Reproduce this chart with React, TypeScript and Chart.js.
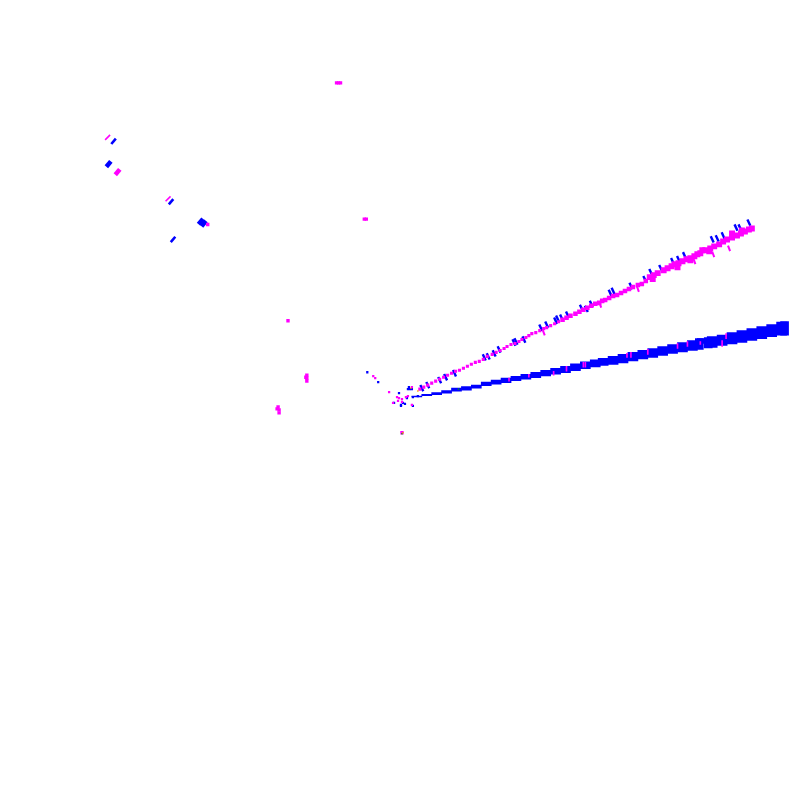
import React, { useEffect, useRef } from "react";
import { Chart, registerables } from "chart.js";

Chart.register(...registerables);

type P = [number, number];
type R = [number, number, number];

// Wedge of blue: [x, upper, lower]
const blueWedge: R[] = [
  [417, 396, 397], [427, 394.3, 395.7], [437, 392.5, 394.6], [447, 390.5, 393], [457, 388, 391],
  [467, 386.5, 390], [477, 385, 388], [487, 382, 385.5], [497, 380, 384], [507, 378, 382.5],
  [517, 376, 380.5], [527, 374, 379], [537, 372, 377.5], [547, 370, 375.7], [557, 368, 374],
  [567, 366, 372.5], [577, 363.5, 370.5], [587, 361.5, 368.5], [597, 359.5, 366.5], [605, 358, 365],
  [615, 356, 364], [625, 354, 362.5], [635, 352, 360.5], [645, 350, 358.5], [655, 348, 357],
  [665, 346, 355], [675, 344, 353], [685, 342, 351.5], [695, 340, 350], [705, 338, 343],
  [715, 336, 347], [725, 334.5, 345], [735, 332, 343.5], [745, 330, 342], [755, 328, 340],
  [765, 326, 338], [775, 324, 336], [785, 321.5, 334.5],
];
const wedgeEdge: R[] = [[702, 338, 349], [711, 337, 347.5], [788, 321, 334.5]];
const wedgeTicks: R[] = [
  [510, 378, 381], [530, 374, 377], [555, 371, 375], [568, 366, 371], [585, 362, 367], [587, 362, 367],
  [629, 353, 357], [633, 352, 357], [650, 349, 354], [680, 343, 348], [690, 341, 346],
  [703, 341, 344], [725, 340, 346], [729, 333, 338],
];

const magentaThin: P[] = [
  [420, 389], [424, 387], [428, 385], [432, 383], [436, 381], [440, 379], [444, 377], [448, 375],
  [452, 373], [456, 371], [460, 370], [464, 368], [468, 366], [472, 364], [476, 362], [480, 361],
  [484, 359], [488, 356], [493, 354], [497, 352], [501, 350], [505, 348], [508, 346], [512, 344],
  [516, 343], [520, 341], [523, 339], [527, 337], [530, 335], [533, 333], [537, 332], [541, 330],
  [545, 328], [548, 327], [552, 325], [556, 323], [560, 321],
];
const magentaMid: P[] = [
  [564, 319], [568, 317], [572, 315], [577, 313], [581, 311], [585, 309], [589, 307], [593, 305],
  [597, 303], [601, 302], [604, 300], [607, 299], [611, 297], [615, 295], [619, 294], [623, 292],
  [627, 290], [631, 288], [635, 286], [640, 284], [644, 283], [648, 280],
];
const magentaThick: P[] = [
  [652, 276], [655, 278], [656, 274], [660, 272], [666, 269], [670, 267], [674, 265], [677, 263],
  [680, 266], [681, 262], [685, 260], [689, 258], [693, 257], [693, 259], [697, 255], [700, 253],
  [703, 252], [705, 249], [708, 249], [712, 250], [713, 247], [717, 245], [722, 243], [726, 240],
  [730, 238], [735, 236], [735, 232], [740, 234], [744, 232], [745, 229], [748, 230], [752, 228],
  [755, 227],
];
const magentaDots: P[] = [
  [389, 392], [397, 397], [399, 398], [402, 399], [398, 401], [402, 402], [393, 403], [408, 396],
  [406, 397], [412, 405], [373, 376], [375, 378], [412, 387],
];
const magentaBlobs: P[] = [
  [402, 433], [287, 320], [306, 375], [306, 378], [305, 377], [306, 381], [277, 407], [278, 410],
  [276, 409], [278, 413], [336, 80], [338, 80], [340, 80], [364, 217.5], [366, 217.5], [206, 223],
];
const magentaFatStrokes: P[] = [[115, 170]];
const magentaStrokes: P[] = [[105, 135], [166, 197]];
const magentaDrops: P[] = [
  [697, 260], [716, 253], [732, 247], [640, 288], [602, 304], [545, 332],
];

const blueDots: P[] = [
  [399, 393], [403, 403], [401, 405], [405, 404], [407, 398], [413, 397], [418, 396], [413, 406],
  [394, 403], [401, 406], [409, 387], [410, 389], [408, 389], [412, 389], [367, 372], [378, 382],
];
const blueFatStrokes: P[] = [[106, 162], [199, 220], [202, 222]];
const blueSlashes: P[] = [[111, 139], [169, 200], [171, 238]];
const blueBandLumps: P[] = [
  [422, 388], [428, 385], [440, 380], [446, 377], [455, 373], [485, 357], [489, 356], [495, 353],
  [500, 349], [515, 342], [517, 341], [525, 339], [542, 327], [548, 324], [557, 320], [559, 318],
  [563, 317], [569, 314], [583, 307], [588, 308], [593, 303], [612, 292], [615, 290], [633, 285],
  [647, 278], [653, 271], [663, 267], [675, 260], [681, 258], [687, 254], [715, 238], [720, 237],
  [726, 234], [739, 226], [743, 226], [752, 221],
];
const orangeDots: P[] = [[403, 433], [418, 391], [411, 388]];
const greenDots: P[] = [[402, 434], [459, 389]];

const pts = (a: P[]) => a.map(([x, y]) => ({ x, y }));
const spans = (a: R[]) => a.map(([x, lo, hi]) => ({ x, y: [lo, hi] }));

export default function App() {
  const ref = useRef<HTMLCanvasElement>(null);
  useEffect(() => {
    if (!ref.current) return;
    const BLUE = "#0000ff";
    const MAG = "#ff00ff";
    const dot = (data: P[], color: string, r: number, order: number) => ({
      type: "scatter" as const,
      data: pts(data),
      pointStyle: "rect",
      pointRadius: r,
      pointBackgroundColor: color,
      pointBorderWidth: 0,
      order,
    });
    const stroke = (data: P[], color: string, r: number, w: number, rot: number, order: number) => ({
      type: "scatter" as const,
      data: pts(data),
      pointStyle: "line",
      pointRadius: r,
      rotation: rot,
      pointBorderColor: color,
      pointBorderWidth: w,
      order,
    });
    const span = (data: R[], color: string, t: number, order: number) => ({
      type: "bar" as const,
      data: spans(data),
      backgroundColor: color,
      barThickness: t,
      grouped: false,
      order,
    });
    const chart = new Chart(ref.current, {
      data: {
        datasets: [
          span(blueWedge, BLUE, 10, 8),
          span(wedgeEdge, BLUE, 8, 8),
          stroke(blueSlashes, BLUE, 3.5, 2.6, -50, 7),
          stroke(blueBandLumps, BLUE, 3.5, 2.4, 65, 7),
          stroke(blueFatStrokes, BLUE, 3.5, 4.5, -50, 7),
          dot(blueDots, BLUE, 1.6, 6),
          span(wedgeTicks, MAG, 1, 5),
          dot(magentaThin, MAG, 2.2, 4),
          dot(magentaMid, MAG, 3.2, 4),
          dot(magentaThick, MAG, 4.2, 4),
          dot(magentaDots, MAG, 1.6, 3),
          dot(magentaBlobs, MAG, 2.4, 3),
          stroke(magentaStrokes, MAG, 3.5, 1.6, -45, 3),
          stroke(magentaFatStrokes, MAG, 3.5, 4.5, -50, 3),
          stroke(magentaDrops, MAG, 3, 2, 70, 3),
          dot(orangeDots, "#ff9900", 1, 2),
          dot(greenDots, "#00aa00", 1, 2),
        ] as any,
      },
      options: {
        animation: false,
        responsive: false,
        devicePixelRatio: 1,
        layout: { padding: 0 },
        plugins: { legend: { display: false }, tooltip: { enabled: false } },
        scales: {
          x: { type: "linear", min: 5, max: 795, display: false, offset: false },
          y: { type: "linear", min: 5, max: 795, reverse: true, display: false },
        },
      } as any,
    });
    return () => chart.destroy();
  }, []);
  return (
    <canvas
      ref={ref}
      width={800}
      height={800}
      style={{ position: "fixed", left: 0, top: 0, width: 800, height: 800 }}
    />
  );
}
